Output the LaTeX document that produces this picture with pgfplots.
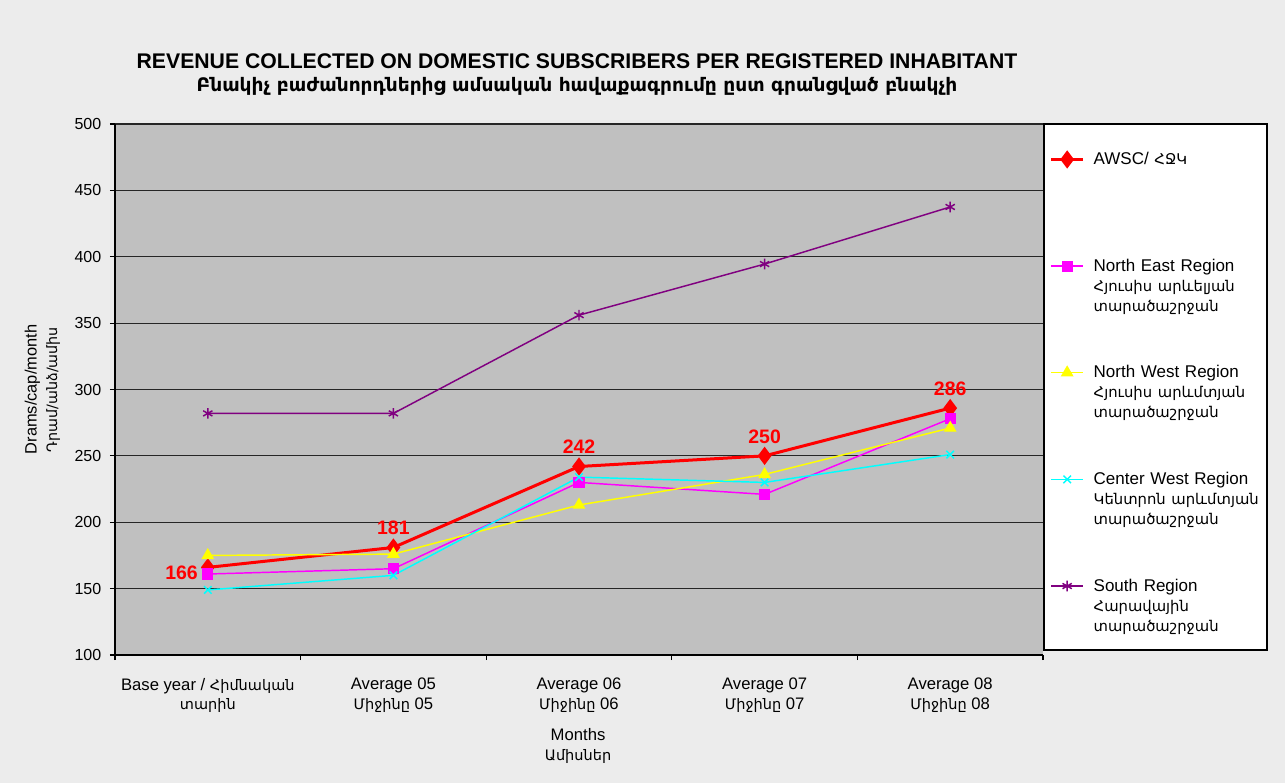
\documentclass[border=0pt]{standalone}
\usepackage{fontspec}
\usepackage{pgfplots}
\pgfplotsset{compat=1.18}
\setmainfont{Liberation Sans}
\newfontfamily\arm{DejaVu Sans}[Scale=0.87]
\newfontfamily\armtitle{DejaVu Sans}[Scale=0.9]
\definecolor{bggray}{HTML}{ECECEC}
\definecolor{plotgray}{HTML}{C0C0C0}
\definecolor{awscred}{RGB}{255,0,0}
\definecolor{nemag}{RGB}{255,0,255}
\definecolor{nwyel}{RGB}{255,255,0}
\definecolor{cwcyan}{RGB}{0,255,255}
\definecolor{southpurple}{RGB}{128,0,128}

\begin{document}
\begin{tikzpicture}
% page background (1px = 0.75pt)
\fill[bggray] (-86.25pt,-96pt) rectangle (877.5pt,491.25pt);
% legend frame
\filldraw[fill=white, draw=black, line width=0.9pt] (696.75pt,3.75pt) rectangle (864pt,398.25pt);
\node[font=\bfseries\fontsize{15.9}{18}\selectfont] at (346.5pt,445.5pt)
  {REVENUE COLLECTED ON DOMESTIC SUBSCRIBERS PER REGISTERED INHABITANT};
\node[font=\armtitle\bfseries\fontsize{15.5}{18}\selectfont] at (346.5pt,426.75pt)
  {Բնակիչ բաժանորդներից ամսական հավաքագրումը ըստ գրանցված բնակչի};
\begin{axis}[
  width=696pt, height=398.25pt, scale only axis,
  xmin=-0.5, xmax=4.5, ymin=100, ymax=500,
  axis x line*=bottom, axis y line*=left,
  axis line style={black, line width=0.9pt},
  axis background/.style={fill=plotgray},
  ytick={100,150,...,500},
  ymajorgrids, major grid style={black!85, line width=0.9pt},
  xtick={0,1,2,3,4},
  xticklabels={
    {Base year / {\arm Հիմնական}\\{\arm տարին}},
    {Average 05\\{\arm Միջինը} 05},
    {Average 06\\{\arm Միջինը} 06},
    {Average 07\\{\arm Միջինը} 07},
    {Average 08\\{\arm Միջինը} 08}},
  minor xtick={-0.5,0.5,1.5,2.5,3.5,4.5},
  major x tick style={draw=none},
  tick align=outside, major tick length=3.75pt, minor tick length=3.75pt,
  tick style={black, line width=0.8pt},
  /pgf/number format/assume math mode=true,
  tick label style={font=\fontsize{12}{14}\selectfont},
  x tick label style={align=center, font=\fontsize{12.5}{14.5}\selectfont, yshift=-10pt},
  yticklabel style={xshift=-3pt},
  every axis y label/.style={at={(axis description cs:-0.0782,0.5)}, rotate=90,
    anchor=center, align=center, font=\fontsize{12.3}{15.5}\selectfont},
  ylabel={Drams/cap/month\\{\arm Դրամ/անձ/ամիս}},
  every axis x label/.style={at={(axis description cs:0.499,-0.172)},
    anchor=center, align=center, font=\fontsize{12.5}{15}\selectfont},
  xlabel={Months\\{\arm Ամիսներ}},
  legend image code/.code={\draw[mark repeat=2,mark phase=2,#1]
    plot coordinates {(0pt,0pt)(12pt,0pt)(24pt,0pt)};},
  legend style={at={(axis description cs:1.001,1)}, anchor=north west,
    draw=none, fill=none,
    inner xsep=4.1pt, inner ysep=21pt, row sep=69.25pt,
    font=\fontsize{12.75}{15}\selectfont,
    nodes={text width=126pt, align=left, inner xsep=6.75pt, inner ysep=0pt}},
  legend cell align=left,
]
\addplot[awscred, line width=2.25pt, mark=diamond*, mark size=5pt,
  point meta=explicit symbolic, nodes near coords,
  every node near coord/.append style={font=\bfseries\fontsize{14.6}{17}\selectfont,
    text=awscred, anchor=south, yshift=5pt}]
  coordinates {(0,166)[] (1,181)[181] (2,242)[242] (3,250)[250] (4,286)[286]};
\addlegendentry{AWSC/ {\arm ՀՋԿ}}
\addplot[nemag, line width=1.1pt, mark=square*, mark size=3.6pt]
  coordinates {(0,161)(1,165)(2,230)(3,221)(4,278)};
\addlegendentry{North East Region\\{\arm Հյուսիս արևելյան}\\{\arm տարածաշրջան}}
\addplot[nwyel, line width=1.1pt, mark=triangle*, mark size=4.5pt]
  coordinates {(0,175)(1,176)(2,213)(3,236)(4,271)};
\addlegendentry{North West Region\\{\arm Հյուսիս արևմտյան}\\{\arm տարածաշրջան}}
\addplot[cwcyan, line width=1.1pt, mark=x, mark size=4pt]
  coordinates {(0,149)(1,160)(2,234)(3,230)(4,251)};
\addlegendentry{Center West Region\\{\arm Կենտրոն արևմտյան}\\{\arm տարածաշրջան}}
\addplot[southpurple, line width=1.1pt, mark=asterisk, mark size=4pt]
  coordinates {(0,282)(1,282)(2,356)(3,394.5)(4,437.5)};
\addlegendentry{South Region\\{\arm Հարավային}\\{\arm տարածաշրջան}}
\node[anchor=east, text=awscred, font=\bfseries\fontsize{14.6}{17}\selectfont,
  xshift=-4pt, yshift=-4pt] at (axis cs:0,166) {166};
\end{axis}
\end{tikzpicture}
\end{document}
